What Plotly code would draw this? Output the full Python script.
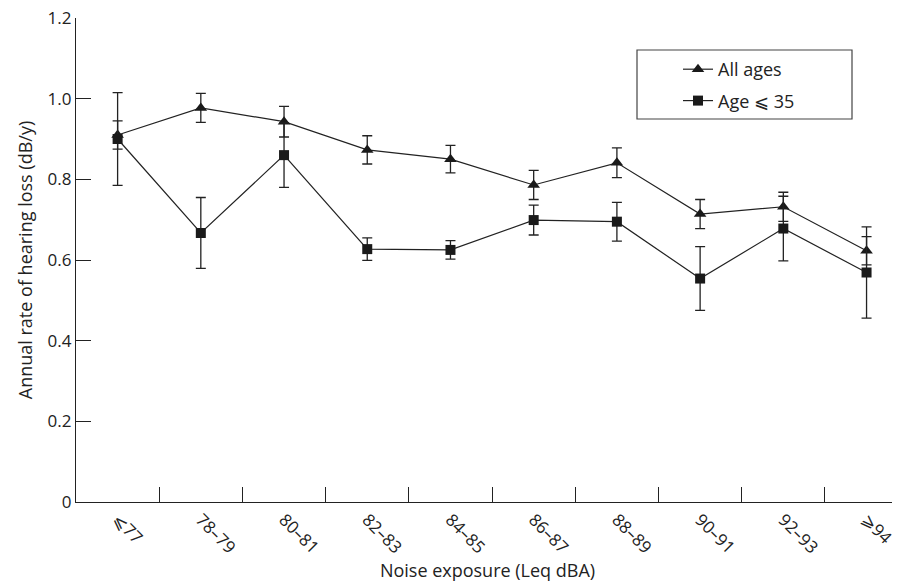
import plotly.graph_objects as go

categories = ["⩽77", "78–79", "80–81", "82–83", "84–85", "86–87", "88–89", "90–91", "92–93", "⩾94"]

all_ages = [0.91, 0.977, 0.943, 0.873, 0.850, 0.786, 0.841, 0.714, 0.732, 0.623]
all_ages_err = [0.035, 0.036, 0.038, 0.035, 0.034, 0.036, 0.037, 0.036, 0.036, 0.035]

age35 = [0.90, 0.667, 0.860, 0.627, 0.625, 0.699, 0.695, 0.554, 0.678, 0.569]
age35_err = [0.115, 0.088, 0.080, 0.028, 0.023, 0.037, 0.048, 0.079, 0.080, 0.113]

y_ticks = [0, 0.2, 0.4, 0.6, 0.8, 1.0, 1.2]
y_ticktext = ["0", "0.2", "0.4", "0.6", "0.8", "1.0", "1.2"]

FONT = "'Open Sans', 'DejaVu Sans', sans-serif"
INK = "#222222"

fig = go.Figure()

fig.add_trace(go.Scatter(
    x=categories, y=all_ages, name="All ages", legendgroup="a",
    mode="lines+markers",
    line=dict(color=INK, width=1.2),
    marker=dict(symbol="triangle-up", size=11, color="#1a1a1a"),
    error_y=dict(type="data", array=all_ages_err, visible=True,
                 color=INK, thickness=1.3, width=5),
))
fig.add_trace(go.Scatter(
    x=categories, y=age35, name="Age ⩽ 35", legendgroup="b",
    mode="lines+markers",
    line=dict(color=INK, width=1.2),
    marker=dict(symbol="square", size=10, color="#1a1a1a"),
    error_y=dict(type="data", array=age35_err, visible=True,
                 color=INK, thickness=1.3, width=5),
))

# page body has an 8px margin: the figure is drawn in reference coords minus 8
OFF = 8
W, H = 900 - OFF, 586 - OFF
L, R, T, B = 76 - OFF, 1, 18 - OFF, 84
pw = W - L - R
ph = H - T - B

def px_x(x):
    return (x - OFF - L) / pw

def px_y(y):
    return (H - B - (y - OFF)) / ph

fig.add_shape(type="rect", xref="paper", yref="paper",
              x0=px_x(637), x1=px_x(852), y0=px_y(119), y1=px_y(50),
              line=dict(color="#444444", width=1.2), fillcolor="rgba(0,0,0,0)")

fig.update_layout(
    width=W, height=H,
    margin=dict(l=L, r=R, t=T, b=B, autoexpand=False),
    paper_bgcolor="white", plot_bgcolor="white",
    font=dict(family=FONT, size=16, color=INK),
    showlegend=True,
    legend=dict(x=px_x(678), y=px_y(51), xanchor="left", yanchor="top",
                bgcolor="rgba(0,0,0,0)", borderwidth=0,
                font=dict(family=FONT, size=18, color=INK),
                tracegroupgap=5, traceorder="grouped"),
    xaxis=dict(
        type="category", range=[-0.5, 9.39],
        tickson="boundaries", ticks="inside", ticklen=15, tickwidth=1,
        tickcolor=INK, showline=True, linecolor=INK, linewidth=1.2,
        showgrid=False, zeroline=False, tickangle=45,
        tickfont=dict(family=FONT, size=17, color=INK),
        ticklabeloverflow="allow",
        title=dict(text="Noise exposure (Leq dBA)", standoff=7,
                   font=dict(family=FONT, size=18, color=INK)),
        automargin=False,
    ),
    yaxis=dict(
        range=[0, 1.2], tickvals=y_ticks, ticktext=y_ticktext,
        ticks="inside", ticklen=15, tickwidth=1, tickcolor=INK,
        showline=True, linecolor=INK, linewidth=1.2,
        showgrid=False, zeroline=False,
        tickfont=dict(family=FONT, size=17, color=INK),
        ticklabeloverflow="allow",
        title=dict(text="Annual rate of hearing loss (dB/y)", standoff=10,
                   font=dict(family=FONT, size=18, color=INK)),
        automargin=False,
    ),
)

fig.write_html("out.html")
